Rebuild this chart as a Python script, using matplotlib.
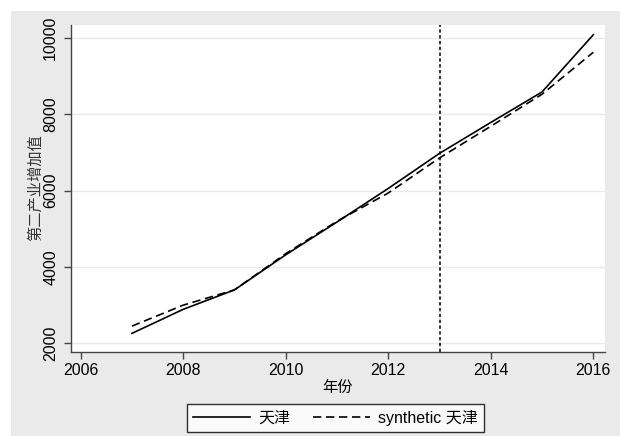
import matplotlib
matplotlib.use("Agg")
import matplotlib.pyplot as plt
from matplotlib.patches import Rectangle

plt.rcParams['font.family'] = ['Liberation Sans', 'Noto Sans CJK SC']

# tertiary industry value added, Tianjin vs. synthetic control
years = [2007, 2008, 2009, 2010, 2011, 2012, 2013, 2014, 2015, 2016]
tianjin = [2260, 2890, 3400, 4320, 5180, 6060, 6980, 7790, 8590, 10090]
synthetic = [2450, 3000, 3400, 4350, 5200, 5940, 6860, 7690, 8530, 9630]
treat_year = 2013
xticks = [2006, 2008, 2010, 2012, 2014, 2016]
yticks = [2000, 4000, 6000, 8000, 10000]

fig = plt.figure(figsize=(6.2, 4.36), dpi=100, facecolor='white')
# grey graph region behind the plot
fig.patches.append(Rectangle((11 / 620, 0), 1, 1 - 11 / 436,
                             transform=fig.transFigure, facecolor='#eaeaea',
                             edgecolor='none', zorder=-10))

ax = fig.add_axes([0.114, 0.192, 0.862, 0.751])
ax.set_facecolor('white')

l1, = ax.plot(years, tianjin, color='black', lw=1.2, label='天津')
l2, = ax.plot(years, synthetic, color='black', lw=1.2,
              linestyle=(0, (5, 2.8)), label='synthetic 天津')
ax.axvline(treat_year, color='black', lw=1.1, linestyle=(0, (2.2, 1.6)))

ax.set_xlim(2005.805, 2016.23)
ax.set_ylim(1764, 10349)
ax.set_xticks(xticks)
ax.set_yticks(yticks)
ax.grid(axis='y', color='#eaeaea', lw=1.0)
ax.set_axisbelow(True)

for s in ['top', 'right']:
  ax.spines[s].set_visible(False)
for s in ['left', 'bottom']:
  ax.spines[s].set_color('#444444')
  ax.spines[s].set_linewidth(1.0)

ax.tick_params(axis='both', direction='out', length=5, width=1.0,
               color='#444444', labelsize=11.5, pad=3)
ax.tick_params(axis='y', pad=4)
for lab in ax.get_yticklabels():
  lab.set_rotation(90)
  lab.set_va('center')

ax.set_xlabel('年份', fontsize=11, labelpad=2)
fig.text(36 / 620, 1 - 188 / 436, '第二产业增加值', rotation=90,
         ha='center', va='center', fontsize=11, color='#333333')

leg = fig.legend(handles=[l1, l2], loc='center', ncol=2,
                 bbox_to_anchor=(335.5 / 620, 1 - 418 / 436),
                 fontsize=11.5, frameon=True, fancybox=False,
                 edgecolor='black', handlelength=3.6, columnspacing=1.4,
                 borderpad=0.35, handletextpad=0.5)
leg.get_frame().set_linewidth(1.0)

fig.savefig('out.png', dpi=100)
